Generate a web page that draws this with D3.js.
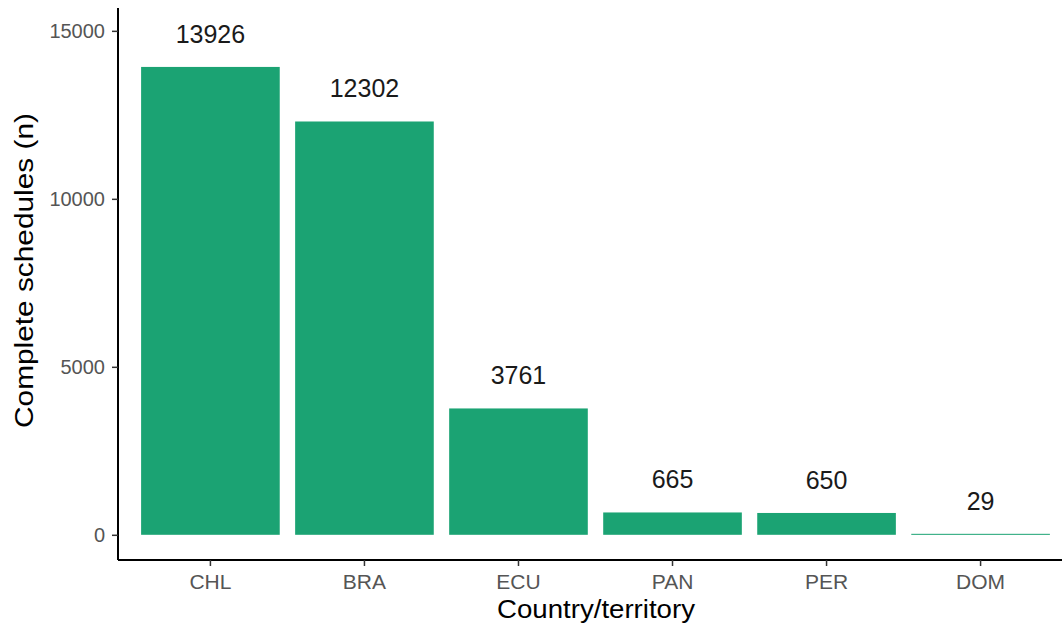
<!DOCTYPE html>
<html><head><meta charset="utf-8">
<script src="https://cdn.jsdelivr.net/npm/d3@7"></script>
<style>body{margin:0;background:#fff;} svg{display:block;font-family:"Liberation Sans",Arial,sans-serif;}</style>
</head><body>
<svg id="c" width="1062" height="626"></svg>
<script>
const categories = ["CHL","BRA","ECU","PAN","PER","DOM"];
const values = [13926,12302,3761,665,650,29];
const yTicks = [0,5000,10000,15000];

const svg = d3.select("#c");
const mLeft = 118, mRight = 1073, mTop = 8, mBottom = 560;
const x = d3.scaleBand().domain(categories).range([mLeft, mRight]).paddingInner(0.1).paddingOuter(0.15);
const y = d3.scaleLinear().domain([-750, 15680]).range([mBottom, mTop]);

svg.append("g").selectAll("rect").data(values).join("rect")
  .attr("x", (d,i)=>x(categories[i]))
  .attr("width", x.bandwidth())
  .attr("y", d=>y(d))
  .attr("height", d=>Math.max(1, y(0)-y(d)))
  .attr("fill", "#1ba373");

svg.append("g").selectAll("text").data(values).join("text")
  .attr("x", (d,i)=>x(categories[i])+x.bandwidth()/2)
  .attr("y", d=>y(d+1000))
  .attr("dy","0.38em")
  .attr("text-anchor","middle")
  .attr("font-size", 25)
  .attr("fill","#1a1a1a")
  .text(d=>d);

const yAxis = svg.append("g").attr("transform",`translate(${mLeft},0)`)
  .call(d3.axisLeft(y).tickValues(yTicks).tickSize(6).tickPadding(7).tickFormat(d3.format("d")));
yAxis.select(".domain").attr("stroke","#000").attr("stroke-width",2).attr("d",`M0,${mTop}V${mBottom}`);
yAxis.selectAll(".tick line").attr("stroke","#333").attr("stroke-width",1.5);
yAxis.selectAll(".tick text").attr("font-size",20).attr("fill","#555").attr("font-family","Liberation Sans,Arial,sans-serif");

const xAxis = svg.append("g").attr("transform",`translate(0,${mBottom})`)
  .call(d3.axisBottom(x).tickSize(6).tickPadding(8));
xAxis.select(".domain").attr("stroke","#000").attr("stroke-width",2).attr("d",`M${mLeft},0H${mRight}`);
xAxis.selectAll(".tick line").attr("stroke","#333").attr("stroke-width",1.5);
xAxis.selectAll(".tick text").attr("font-size",21).attr("fill","#555").attr("font-family","Liberation Sans,Arial,sans-serif");

svg.append("text").attr("x",596).attr("y",618)
  .attr("text-anchor","middle").attr("font-size",26).attr("fill","#000")
  .attr("textLength",198).attr("lengthAdjust","spacingAndGlyphs").text("Country/territory");
svg.append("text").attr("transform",`translate(33,270.5) rotate(-90)`)
  .attr("text-anchor","middle").attr("font-size",26).attr("fill","#000")
  .attr("textLength",315).attr("lengthAdjust","spacingAndGlyphs").text("Complete schedules (n)");
</script>
</body></html>
